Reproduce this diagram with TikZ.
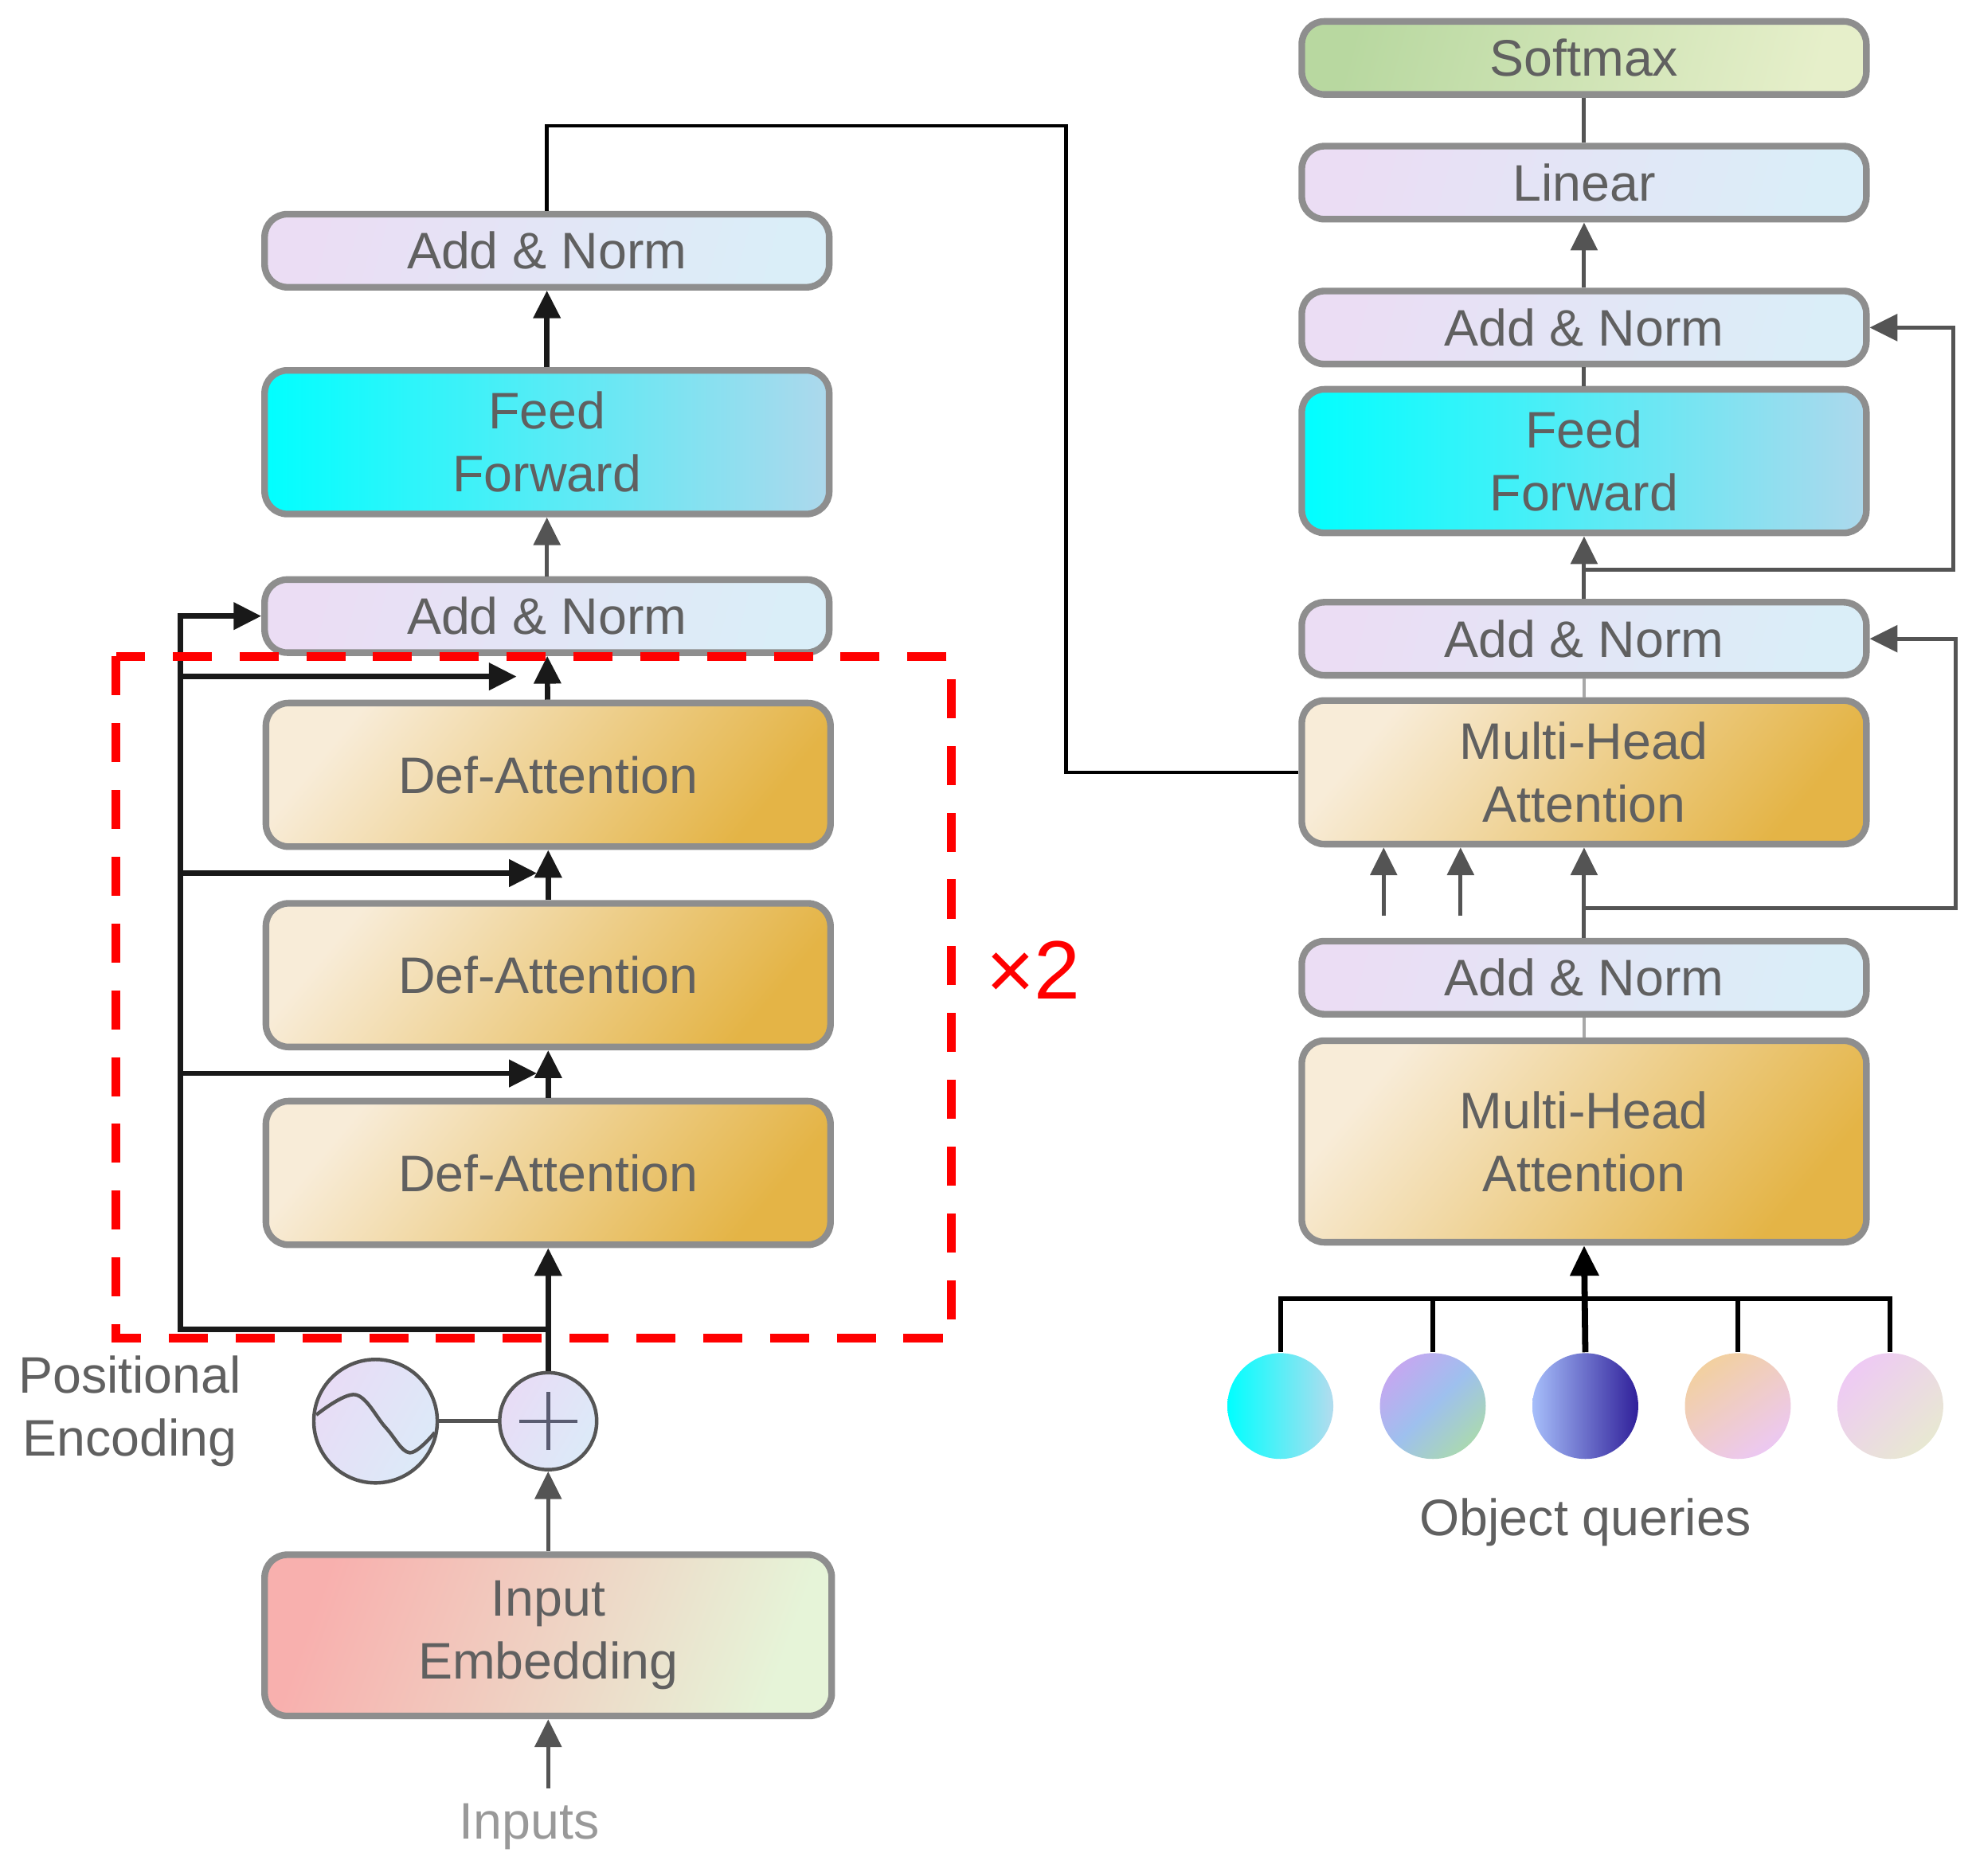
\documentclass[tikz,border=0pt]{standalone}
\usepackage{fontspec}
\setmainfont{Liberation Sans}
\usetikzlibrary{arrows.meta}

\definecolor{textGray}{HTML}{606060}
\definecolor{boxGray}{HTML}{8E8E8E}
\definecolor{lineGray}{HTML}{545454}
\definecolor{lightGray}{HTML}{A8A8A8}
\definecolor{circGray}{HTML}{555555}
\definecolor{plusGray}{HTML}{5A5C72}
\definecolor{anL}{HTML}{EBDDF4}
\definecolor{anR}{HTML}{DAEEF8}
\definecolor{ffL}{HTML}{00FFFF}
\definecolor{ffR}{HTML}{ADD8EC}
\definecolor{daL}{HTML}{F8ECD8}
\definecolor{daR}{HTML}{E4B446}
\definecolor{ieL}{HTML}{F8B0AE}
\definecolor{ieR}{HTML}{E6F4D8}
\definecolor{smL}{HTML}{B8D8A0}
\definecolor{smR}{HTML}{E6EFCA}
\definecolor{peL}{HTML}{E8DCF6}
\definecolor{peR}{HTML}{DCEAF8}
\definecolor{qOneA}{HTML}{00FFFF}
\definecolor{qOneB}{HTML}{B2DCEE}
\definecolor{qTwoA}{HTML}{C4A8F0}
\definecolor{qTwoB}{HTML}{9EC0EE}
\definecolor{qTwoC}{HTML}{AAD8B2}
\definecolor{qThreeA}{HTML}{A6BEFA}
\definecolor{qThreeB}{HTML}{30209A}
\definecolor{qFourA}{HTML}{F2D0A0}
\definecolor{qFourB}{HTML}{ECC8F2}
\definecolor{qFiveA}{HTML}{EECAF4}
\definecolor{qFiveB}{HTML}{E8E8D2}

\pgfdeclarehorizontalshading{AddNormShade}{100bp}{color(0bp)=(anL); color(25bp)=(anL); color(75bp)=(anR); color(100bp)=(anR)}
\pgfdeclarehorizontalshading{FeedFwdShade}{100bp}{color(0bp)=(ffL); color(25bp)=(ffL); color(75bp)=(ffR); color(100bp)=(ffR)}
\pgfdeclarehorizontalshading{AttnShade}{100bp}{color(0bp)=(daL); color(25bp)=(daL); color(75bp)=(daR); color(100bp)=(daR)}
\pgfdeclarehorizontalshading{EmbedShade}{100bp}{color(0bp)=(ieL); color(25bp)=(ieL); color(75bp)=(ieR); color(100bp)=(ieR)}
\pgfdeclarehorizontalshading{SoftmaxShade}{100bp}{color(0bp)=(smL); color(25bp)=(smL); color(75bp)=(smR); color(100bp)=(smR)}
\pgfdeclarehorizontalshading{PosShade}{100bp}{color(0bp)=(peL); color(25bp)=(peL); color(75bp)=(peR); color(100bp)=(peR)}
\pgfdeclarehorizontalshading{QOneShade}{100bp}{color(0bp)=(qOneA); color(25bp)=(qOneA); color(75bp)=(qOneB); color(100bp)=(qOneB)}
\pgfdeclarehorizontalshading{QTwoShade}{100bp}{color(0bp)=(qTwoA); color(25bp)=(qTwoA); color(50bp)=(qTwoB); color(75bp)=(qTwoC); color(100bp)=(qTwoC)}
\pgfdeclarehorizontalshading{QThreeShade}{100bp}{color(0bp)=(qThreeA); color(25bp)=(qThreeA); color(75bp)=(qThreeB); color(100bp)=(qThreeB)}
\pgfdeclarehorizontalshading{QFourShade}{100bp}{color(0bp)=(qFourA); color(25bp)=(qFourA); color(75bp)=(qFourB); color(100bp)=(qFourB)}
\pgfdeclarehorizontalshading{QFiveShade}{100bp}{color(0bp)=(qFiveA); color(25bp)=(qFiveA); color(75bp)=(qFiveB); color(100bp)=(qFiveB)}

\begin{document}
\begin{tikzpicture}[x=0.1mm, y=-0.1mm, font=\fontsize{11.6}{14.2}\selectfont]
	\tikzstyle{Box} = [rectangle, rounded corners=0.18cm, draw=boxGray, line width=1.5pt, shade, minimum width=4.48cm, align=center, text=textGray]
	\tikzstyle{AddNorm} = [Box, minimum height=0.58cm, shading=AddNormShade, shading angle=-15]
	\tikzstyle{FeedFwd} = [Box, minimum height=1.14cm, shading=FeedFwdShade, shading angle=0]
	\tikzstyle{Attn} = [Box, minimum height=1.14cm, shading=AttnShade, shading angle=-40]
	\tikzstyle{Query} = [circle, minimum size=0.84cm, inner sep=0pt, shade]
	\tikzstyle{PosCircle} = [circle, draw=circGray, line width=0.8pt, inner sep=0pt, shade, shading=PosShade, shading angle=-30]
	\tikzstyle{Label} = [text=textGray, align=center]
	\tikzstyle{arrow} = [line width=0.9pt, -{Triangle[length=0.22cm, width=0.21cm]}]
	\tikzstyle{blackarrow} = [arrow, black!90, line width=1.2pt]
	\tikzstyle{grayarrow} = [arrow, lineGray]
	\tikzstyle{grayline} = [line width=0.9pt, lineGray]
	\tikzstyle{lightline} = [line width=0.7pt, lightGray]

	\useasboundingbox (0,0) rectangle (1568,1489);

	\node (an3) [AddNorm] at (434,199) {Add \& Norm};
	\node (ffL) [FeedFwd] at (434,351) {Feed\\Forward};
	\node (an2) [AddNorm] at (434,489) {Add \& Norm};
	\node (da1) [Attn] at (435,615) {Def-Attention};
	\node (da2) [Attn] at (435,774) {Def-Attention};
	\node (da3) [Attn] at (435,931) {Def-Attention};
	\node (pe) [PosCircle, minimum size=0.98cm] at (298,1128) {};
	\node (plus) [PosCircle, minimum size=0.77cm] at (435,1128) {};
	\node (ie) [Box, minimum height=1.28cm, minimum width=4.5cm, shading=EmbedShade, shading angle=-20] at (435,1298) {Input\\Embedding};
	\node (inputs) [Label, text=black!40] at (420,1450) {Inputs};
	\node (peLabel) [Label] at (103,1120) {Positional\\Encoding};
	\node (times) [text=red, font=\fontsize{18.7}{22}\selectfont] at (820,770) {×2};

	\node (sm) [AddNorm, shading=SoftmaxShade] at (1257,46) {Softmax};
	\node (lin) [AddNorm] at (1257,145) {Linear};
	\node (anR3) [AddNorm] at (1257,260) {Add \& Norm};
	\node (ffR) [FeedFwd] at (1257,366) {Feed\\Forward};
	\node (anR2) [AddNorm] at (1257,507) {Add \& Norm};
	\node (mhaR2) [Attn] at (1257,613) {Multi-Head\\Attention};
	\node (anR1) [AddNorm] at (1257,776) {Add \& Norm};
	\node (mhaR1) [Attn, minimum height=1.6cm] at (1257,906) {Multi-Head\\Attention};
	\node (q1) [Query, shading=QOneShade] at (1016,1116) {};
	\node (q2) [Query, shading=QTwoShade, shading angle=-45] at (1137,1116) {};
	\node (q3) [Query, shading=QThreeShade] at (1258,1116) {};
	\node (q4) [Query, shading=QFourShade, shading angle=-55] at (1379,1116) {};
	\node (q5) [Query, shading=QFiveShade, shading angle=-45] at (1500,1116) {};
	\node (oq) [Label] at (1258,1208) {Object queries};

	\draw[circGray, line width=0.8pt, shift={(pe.center)}] plot[smooth, tension=0.6] coordinates {(-47,-5) (-16,-21) (8,5) (27,25) (47,9)};
	\draw[plusGray, line width=0.8pt] ([xshift=-0.23cm]plus.center) -- ([xshift=0.23cm]plus.center);
	\draw[plusGray, line width=0.8pt] ([yshift=-0.23cm]plus.center) -- ([yshift=0.23cm]plus.center);

	\coordinate (skipB) at (435,1055);
	\coordinate (skipL) at (143,1055);
	\coordinate (s1) at (143,852);
	\coordinate (t1) at (426,852);
	\coordinate (s2) at (143,693);
	\coordinate (t2) at (426,693);
	\coordinate (s3) at (143,537);
	\coordinate (t3) at (410,537);
	\coordinate (memo) at (846,100);
	\coordinate (r2) at (1257,452);
	\coordinate (r2e) at (1550,452);
	\coordinate (r1) at (1257,721);
	\coordinate (r1e) at (1552,721);
	\coordinate (k) at (1098,727);
	\coordinate (v) at (1159,727);
	\coordinate (bus) at (1258,1031);

	\draw[grayarrow] (ie.south |- inputs.north) -- (ie.south);
	\draw[grayarrow] (ie) -- (plus);
	\draw[grayline] (pe) -- (plus);
	\draw[blackarrow] (plus) -- (da3);
	\draw[blackarrow] (da3) -- (da2);
	\draw[blackarrow] (da2) -- (da1);
	\draw[blackarrow] (da1) -- (an2);
	\draw[grayarrow] (an2) -- (ffL);
	\draw[blackarrow] (ffL) -- (an3);
	\draw[blackarrow] (skipB) -- (skipL) |- (an2.west);
	\draw[blackarrow] (s1) -- (t1);
	\draw[blackarrow] (s2) -- (t2);
	\draw[blackarrow] (s3) -- (t3);
	\draw[black, line width=0.8pt] (an3.north) |- (memo) |- (mhaR2.west);

	\draw[grayline] (sm) -- (lin);
	\draw[grayarrow] (anR3) -- (lin);
	\draw[grayline] (ffR) -- (anR3);
	\draw[grayarrow] (anR2) -- (ffR);
	\draw[grayarrow] (r2) -- (r2e) |- (anR3.east);
	\draw[lightline] (mhaR2) -- (anR2);
	\draw[grayarrow] (anR1) -- (mhaR2);
	\draw[grayarrow] (r1) -- (r1e) |- (anR2.east);
	\draw[grayarrow] (k) -- (k |- mhaR2.south);
	\draw[grayarrow] (v) -- (v |- mhaR2.south);
	\draw[lightline] (mhaR1) -- (anR1);
	\draw[black, line width=1.1pt] (q1.north) |- (bus) -| (q5.north);
	\draw[black, line width=1.1pt] (q2.north) -- (q2.north |- bus);
	\draw[black, line width=1.1pt] (q4.north) -- (q4.north |- bus);
	\draw[black, line width=1.4pt, -{Triangle[length=0.24cm, width=0.22cm]}] (q3.north) -- (mhaR1.south);

	\draw[red, line width=2pt, dash pattern=on 0.31cm off 0.22cm] (92,521) rectangle (755,1062);
\end{tikzpicture}
\end{document}
